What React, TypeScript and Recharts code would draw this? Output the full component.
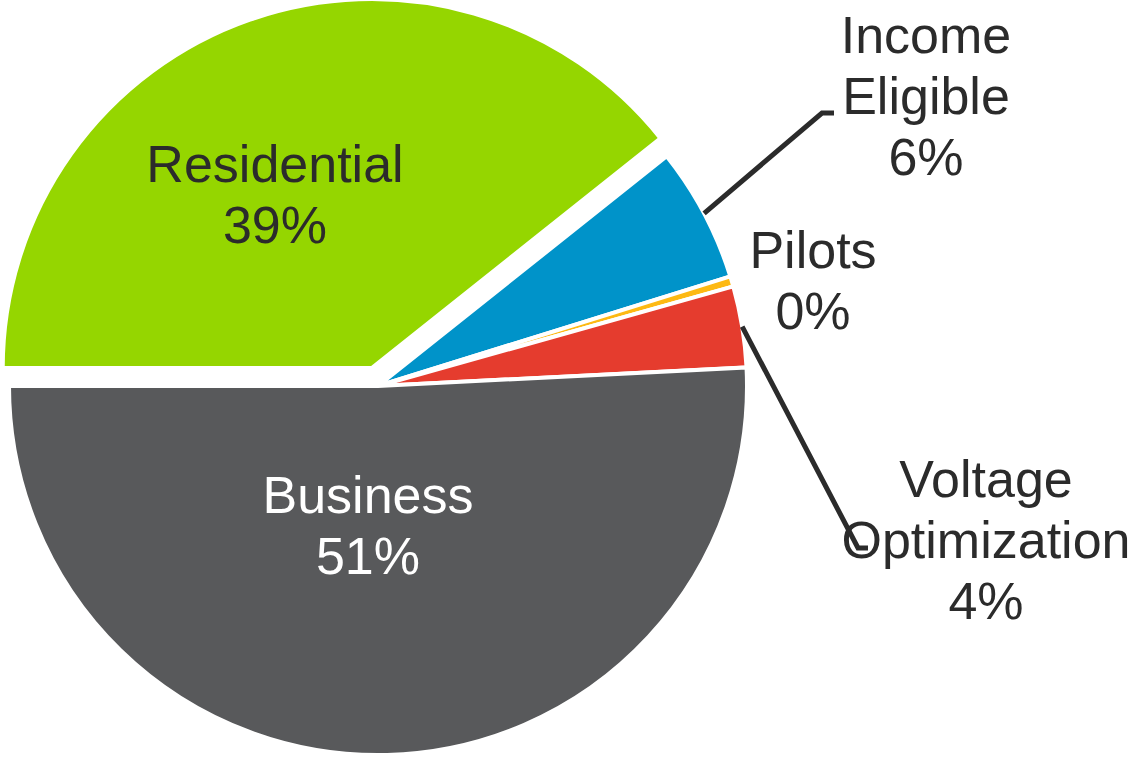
import { PieChart, Pie, Cell } from "recharts";

const categories = ["Residential", "Income Eligible", "Pilots", "Voltage Optimization", "Business"];
const shares = [39.3, 5.9, 0.45, 3.55, 50.8];
const colors = ["#95d600", "#0093c9", "#fdb913", "#e53c2e", "#58595b"];

const data = categories.map((name, i) => ({ name, value: shares[i] }));

const RADIAN = Math.PI / 180;
const CX = 378;
const CY = 386;
const R = 369;
const START = 180;
const EXPLODE = 19;
const TEXT = "#2b2b2b";
const FONT = "'Liberation Sans', Arial, sans-serif";

// exploded residential slice: shift along its mid angle
const total = shares.reduce((a, b) => a + b, 0);
const resMid = START - (360 * shares[0]) / total / 2;
const RCX = CX + EXPLODE * Math.cos(resMid * RADIAN);
const RCY = CY - EXPLODE * Math.sin(resMid * RADIAN);

// label placement, by category index
const labelPos = [
  { x: 275, y: 182, fill: TEXT },
  { x: 926, y: 53, fill: TEXT, elbow: [822, 113], end: [834, 113] },
  { x: 813, y: 268, fill: TEXT },
  { x: 986, y: 497, fill: TEXT, elbow: [858, 548], end: [868, 548] },
  { x: 368, y: 513, fill: "#ffffff" },
];

function renderLabel(props: any) {
  const { cx, cy, midAngle, outerRadius, percent, index } = props;
  const pos = labelPos[index];
  const lines = [...categories[index].split(" "), `${Math.round(percent * 100)}%`];
  let leader = null;
  if (pos.elbow) {
    const sx = cx + outerRadius * Math.cos(-midAngle * RADIAN);
    const sy = cy + outerRadius * Math.sin(-midAngle * RADIAN);
    leader = (
      <polyline
        points={`${sx},${sy} ${pos.elbow[0]},${pos.elbow[1]} ${pos.end[0]},${pos.end[1]}`}
        fill="none"
        stroke={TEXT}
        strokeWidth={5}
      />
    );
  }
  return (
    <g>
      {leader}
      <text x={pos.x} y={pos.y} textAnchor="middle" fontFamily={FONT} fontSize={52} fill={pos.fill}>
        {lines.map((t, k) => (
          <tspan key={k} x={pos.x} dy={k === 0 ? 0 : 61}>
            {t}
          </tspan>
        ))}
      </text>
    </g>
  );
}

export default function App() {
  return (
    <div style={{ position: "absolute", left: 0, top: 0, width: 1134, height: 758, background: "#fff" }}>
      <PieChart width={1134} height={758} margin={{ top: 0, right: 0, bottom: 0, left: 0 }}>
        <Pie
          data={data}
          dataKey="value"
          nameKey="name"
          cx={RCX}
          cy={RCY}
          outerRadius={R}
          startAngle={START}
          endAngle={START - 360}
          stroke="#ffffff"
          strokeWidth={4}
          isAnimationActive={false}
        >
          {data.map((d, i) => (
            <Cell key={d.name} fill={i === 0 ? colors[i] : "transparent"} stroke={i === 0 ? "#ffffff" : "none"} />
          ))}
        </Pie>
        <Pie
          data={data}
          dataKey="value"
          nameKey="name"
          cx={CX}
          cy={CY}
          outerRadius={R}
          startAngle={START}
          endAngle={START - 360}
          stroke="#ffffff"
          strokeWidth={4}
          label={renderLabel}
          labelLine={false}
          isAnimationActive={false}
        >
          {data.map((d, i) => (
            <Cell key={d.name} fill={i === 0 ? "transparent" : colors[i]} stroke={i === 0 ? "none" : "#ffffff"} />
          ))}
        </Pie>
      </PieChart>
    </div>
  );
}
